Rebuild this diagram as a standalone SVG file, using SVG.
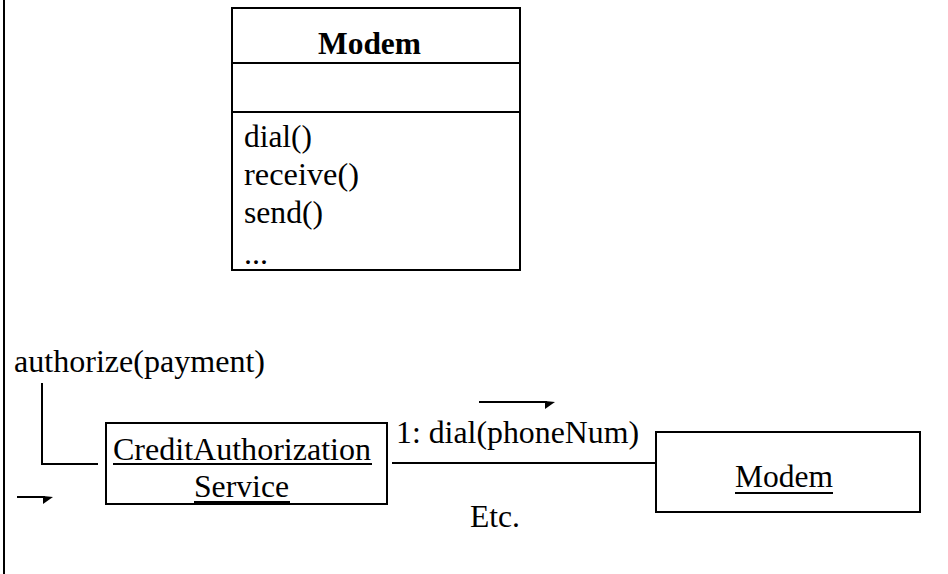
<svg xmlns="http://www.w3.org/2000/svg" width="948" height="574" viewBox="0 0 948 574">
  <style>
    .box { fill: #fff; stroke: #000; stroke-width: 2; }
    .ln { fill: none; stroke: #000; stroke-width: 2; }
    .t { font-family: "Liberation Serif", "Times New Roman", serif; font-size: 32px; fill: #000; }
    .b { font-weight: bold; }
    .ul { stroke: #000; stroke-width: 2; }
    .head { fill: #000; stroke: none; }
  </style>
  <rect width="948" height="574" fill="#fff"/>
  <!-- frame edge -->
  <line x1="4" y1="0" x2="4" y2="574" class="ln"/>

  <!-- class box -->
  <g id="modem-class">
    <rect x="232" y="8" width="288" height="262" class="box"/>
    <line x1="232" y1="63" x2="520" y2="63" class="ln"/>
    <line x1="232" y1="112" x2="520" y2="112" class="ln"/>
    <text x="318" y="54" class="t b" textLength="103" lengthAdjust="spacingAndGlyphs">Modem</text>
    <text x="244" y="147" class="t" textLength="68" lengthAdjust="spacingAndGlyphs">dial()</text>
    <text x="244" y="185" class="t" textLength="115" lengthAdjust="spacingAndGlyphs">receive()</text>
    <text x="244" y="223" class="t" textLength="79" lengthAdjust="spacingAndGlyphs">send()</text>
    <text x="244" y="264" class="t" textLength="24" lengthAdjust="spacingAndGlyphs">...</text>
  </g>

  <!-- collaboration objects -->
  <g id="credit-service">
    <rect x="106" y="423" width="281" height="81" class="box"/>
    <text x="113" y="460" class="t" textLength="258" lengthAdjust="spacingAndGlyphs">CreditAuthorization</text>
    <line x1="113" y1="464" x2="372" y2="464" class="ul"/>
    <text x="194" y="497" class="t" textLength="95" lengthAdjust="spacingAndGlyphs">Service</text>
    <line x1="194" y1="502" x2="290" y2="502" class="ul"/>
  </g>

  <g id="modem-object">
    <rect x="656" y="432" width="264" height="80" class="box"/>
    <text x="735" y="487" class="t" textLength="98" lengthAdjust="spacingAndGlyphs">Modem</text>
    <line x1="735" y1="493" x2="833" y2="493" class="ul"/>
  </g>

  <g id="connectors">
    <polyline points="42,383 42,464 98,464" class="ln"/>
    <line x1="392" y1="463" x2="656" y2="463" class="ln"/>
    <line x1="17" y1="497" x2="45" y2="497" class="ln"/>
    <polygon points="43,496 53,497 43,504" class="head"/>
    <line x1="479" y1="402" x2="547" y2="402" class="ln"/>
    <polygon points="545,401 555,402 545,409" class="head"/>
  </g>

  <g id="labels">
    <text x="14" y="372" class="t" textLength="251" lengthAdjust="spacingAndGlyphs">authorize(payment)</text>
    <text x="396" y="443" class="t" textLength="243" lengthAdjust="spacingAndGlyphs">1: dial(phoneNum)</text>
    <text x="470" y="527" class="t" textLength="50" lengthAdjust="spacingAndGlyphs">Etc.</text>
  </g>
</svg>
